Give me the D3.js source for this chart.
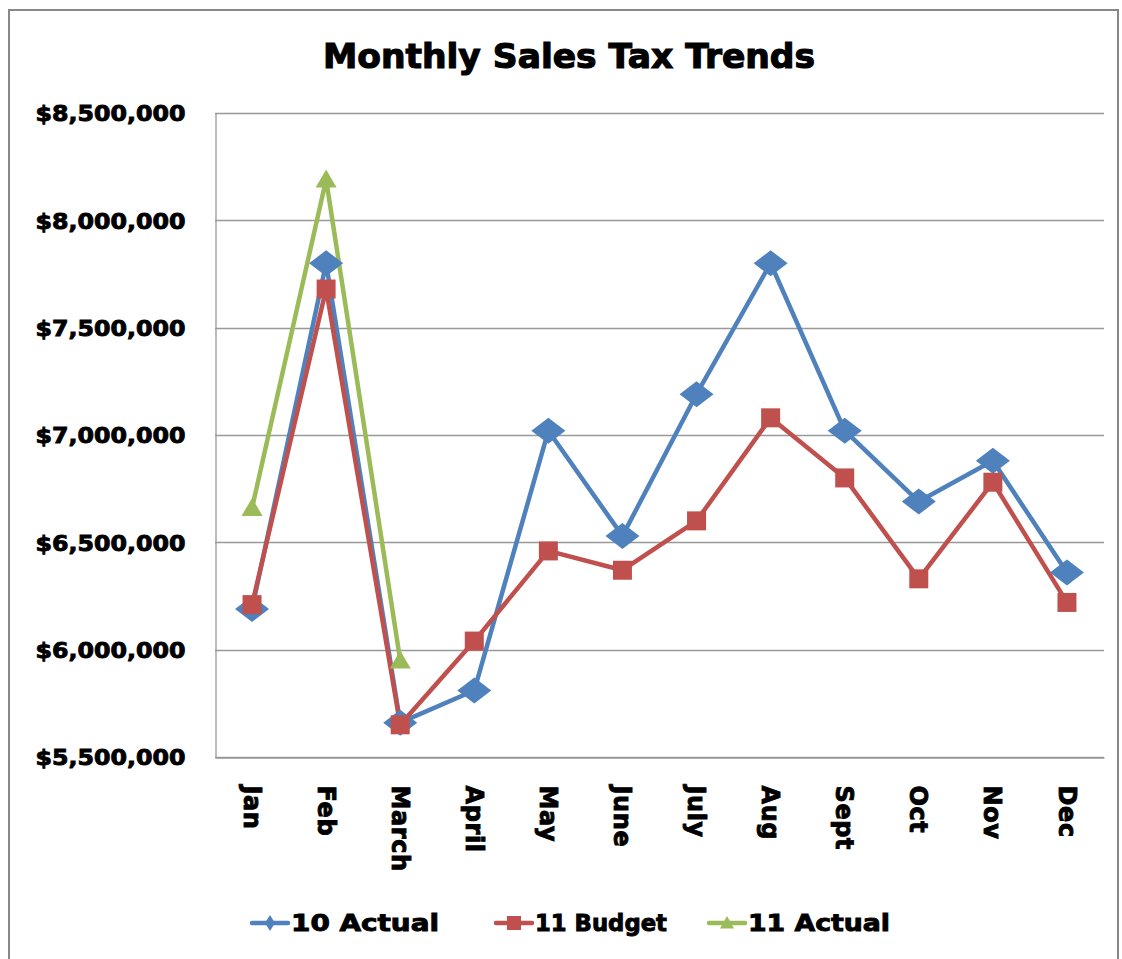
<!DOCTYPE html>
<html>
<head>
<meta charset="utf-8">
<script src="https://cdn.jsdelivr.net/npm/d3@7"></script>
<style>
  body { margin: 0; background: #fff; }
  text { font-family: "DejaVu Sans", sans-serif; font-weight: bold; fill: #000; stroke: #000; stroke-width: 0.9px; }
</style>
</head>
<body>
<script>
// chart data
var months = ['Jan', 'Feb', 'March', 'April', 'May', 'June', 'July', 'Aug', 'Sept', 'Oct', 'Nov', 'Dec'];
var actual10 = [6190000, 7800000, 5660000, 5810000, 7020000, 6530000, 7190000, 7800000, 7020000, 6690000, 6880000, 6360000];
var budget11 = [6210000, 7680000, 5650000, 6040000, 6460000, 6370000, 6600000, 7080000, 6800000, 6330000, 6780000, 6220000];
var actual11 = [6660000, 8190000, 5950000];
var yTicks = [5500000, 6000000, 6500000, 7000000, 7500000, 8000000, 8500000];
var seriesNames = ['10 Actual', '11 Budget', '11 Actual'];
var colors = ['#4f81bd', '#c0504d', '#9bbb59'];

var W = 1122, H = 959;
var plotL = 215, plotR = 1104, plotT = 113, plotB = 757;

var svg = d3.select('body').append('svg')
    .attr('width', W)
    .attr('height', H);

// outer frame (bottom edge is cut off in the original)
svg.append('path')
    .attr('d', 'M9,' + H + 'V10H1118V' + H)
    .attr('fill', 'none')
    .attr('stroke', '#888')
    .attr('stroke-width', 2);

svg.append('text')
    .attr('x', 323)
    .attr('y', 68)
    .attr('textLength', 492)
    .attr('lengthAdjust', 'spacingAndGlyphs')
    .style('font-size', '33px')
    .style('stroke-width', '1.1px')
    .text('Monthly Sales Tax Trends');

var x = d3.scaleBand()
    .domain(months)
    .range([plotL, plotR]);

var y = d3.scaleLinear()
    .domain([5500000, 8500000])
    .range([plotB, plotT]);

// gridlines
svg.append('g')
    .selectAll('line')
    .data(yTicks)
    .enter().append('line')
    .attr('x1', plotL)
    .attr('x2', plotR)
    .attr('y1', function(d) { return Math.round(y(d)) + 0.5; })
    .attr('y2', function(d) { return Math.round(y(d)) + 0.5; })
    .attr('stroke', '#999')
    .attr('stroke-width', 1.3);

// y axis
var yAxis = d3.axisLeft(y)
    .tickValues(yTicks)
    .tickSize(0)
    .tickPadding(30)
    .tickFormat(function(d) { return '$' + d3.format(',')(d); });

var gy = svg.append('g')
    .attr('transform', 'translate(' + (plotL + 0.5) + ',0)')
    .call(yAxis);
gy.select('.domain').attr('stroke', '#999').attr('stroke-width', 1.3);
gy.selectAll('text')
    .style('font-size', '22px')
    .style('font-family', '"DejaVu Sans", sans-serif')
    .attr('fill', '#000')
    .attr('textLength', 150)
    .attr('lengthAdjust', 'spacingAndGlyphs')
    .attr('dy', '0.36em');

// x axis
var xAxis = d3.axisBottom(x).tickSize(0).tickPadding(0);
var gx = svg.append('g')
    .attr('transform', 'translate(0,' + (plotB + 0.5) + ')')
    .call(xAxis);
gx.select('.domain').attr('stroke', '#999').attr('stroke-width', 1.3);
gx.selectAll('text')
    .style('font-size', '24px')
    .style('font-family', '"DejaVu Sans", sans-serif')
    .style('letter-spacing', '0.6px')
    .attr('fill', '#000')
    .attr('text-anchor', 'start')
    .attr('transform', 'translate(0,28) rotate(90)')
    .attr('x', 0)
    .attr('y', 0)
    .attr('dy', '0.35em');

var allSeries = [actual10, budget11, actual11];

var line = d3.line()
    .x(function(d, i) { return x(months[i]) + x.bandwidth() / 2; })
    .y(function(d) { return y(d); });

allSeries.forEach(function(vals, s) {
    svg.append('path')
        .datum(vals)
        .attr('d', line)
        .attr('fill', 'none')
        .attr('stroke', colors[s])
        .attr('stroke-width', 4.5)
        .attr('stroke-linejoin', 'round');
});

// marker shapes: half width, half height
function markerPath(s, w, h) {
    if (s === 0) return 'M0,' + (-h) + 'L' + w + ',0L0,' + h + 'L' + (-w) + ',0Z';
    if (s === 1) return 'M' + (-w) + ',' + (-h) + 'H' + w + 'V' + h + 'H' + (-w) + 'Z';
    return 'M0,' + (-h) + 'L' + w + ',' + (h * 0.8) + 'H' + (-w) + 'Z';
}
var markSize = [[17, 13], [9.5, 9.5], [10.5, 10]];
var legendSize = [[5, 8], [7, 7], [7, 7]];

function marker(g, s, cx, cy, sz) {
    g.append('path')
        .attr('d', markerPath(s, sz[s][0], sz[s][1]))
        .attr('transform', 'translate(' + cx + ',' + cy + ')')
        .attr('fill', colors[s]);
}

allSeries.forEach(function(vals, s) {
    var g = svg.append('g');
    vals.forEach(function(v, i) {
        marker(g, s, x(months[i]) + x.bandwidth() / 2, y(v), markSize);
    });
});

// legend
var legendX = [252, 496, 709];
var legendW = [148, 132, 142];
var lg = svg.append('g');
seriesNames.forEach(function(name, s) {
    var lx = legendX[s], ly = 923;
    lg.append('line')
        .attr('x1', lx).attr('x2', lx + 36)
        .attr('y1', ly).attr('y2', ly)
        .attr('stroke', colors[s])
        .attr('stroke-width', 4.5)
        .attr('stroke-linecap', 'round');
    marker(lg, s, lx + 18, ly, legendSize);
    lg.append('text')
        .attr('x', lx + 39)
        .attr('y', ly)
        .attr('dy', '0.36em')
        .attr('textLength', legendW[s])
        .attr('lengthAdjust', 'spacingAndGlyphs')
        .style('font-size', '23px')
        .text(name);
});
</script>
</body>
</html>
